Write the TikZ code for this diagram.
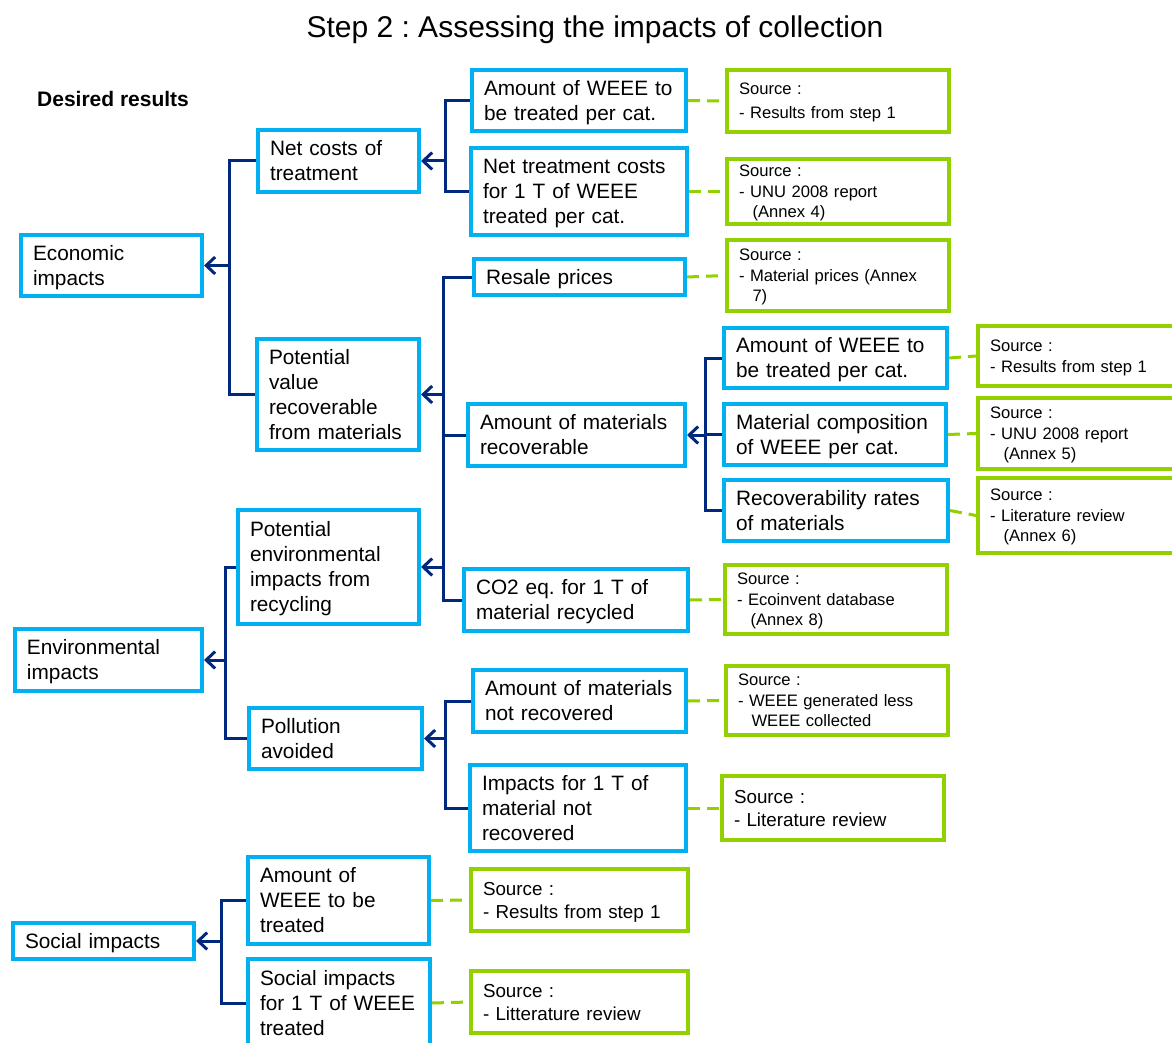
\documentclass[tikz,border=0pt]{standalone}
\usepackage{fontspec}
\setmainfont{Liberation Sans}
\usetikzlibrary{arrows.meta}
\definecolor{bxblue}{RGB}{0,176,240}
\definecolor{bxgreen}{RGB}{146,208,0}
\definecolor{lnnavy}{RGB}{0,40,125}
\frenchspacing
\newcommand{\mkbox}[7]{%
  \pgfmathsetmacro{\bxc}{(#3+#5)/2}%
  \pgfmathsetmacro{\byc}{(#4+#6)/2}%
  \pgfmathsetmacro{\bw}{#5-#3-4}%
  \pgfmathsetmacro{\bh}{#6-#4-4}%
  \pgfmathsetmacro{\btw}{#5-#3-28}%
  \node[#1, minimum width=\bw pt, minimum height=\bh pt, text width=\btw pt] (#2) at (\bxc,\byc)
    {\rule{0pt}{0.905em}#7\rule[-0.212em]{0pt}{0.212em}};%
}
\newcommand{\ind}{\hspace*{13.5pt}}
\begin{document}
\begin{tikzpicture}[x=1pt,y=-1pt,
  bluebox/.style={draw=bxblue, line width=4pt, inner xsep=12pt, inner ysep=0pt, align=left,
    font=\fontsize{20.8}{25}\selectfont},
  greenbox/.style={draw=bxgreen, line width=4pt, inner xsep=12pt, inner ysep=0pt, align=left,
    font=\fontsize{16.6}{20.5}\selectfont},
  greenboxL/.style={greenbox, font=\fontsize{18.8}{23}\selectfont},
  conn/.style={draw=lnnavy, line width=3pt},
  arr/.style={conn, -{Straight Barb[length=9pt,width=17pt]}},
  srcline/.style={draw=bxgreen, line width=3pt, dash pattern=on 12pt off 7pt},
  ttl/.style={font=\fontsize{30}{36}\selectfont, inner sep=0pt},
  hdr/.style={font=\fontsize{21}{25}\selectfont\bfseries, inner sep=0pt}
]
\useasboundingbox (0,0) rectangle (1172,1043);

\node[ttl, anchor=base] (title) at (595,38) {Step 2 : Assessing the impacts of collection};
\node[hdr, anchor=base west] (desired) at (37,107) {Desired results};

% level 1
\mkbox{bluebox}{econ}{19}{233}{204}{298}{Economic\\impacts}
\mkbox{bluebox}{env}{13}{627}{204}{693}{Environmental\\impacts}
\mkbox{bluebox}{social}{11}{921}{196}{961}{Social impacts}
% level 2
\mkbox{bluebox}{netcosts}{256}{128}{421}{194}{Net costs of\\treatment}
\mkbox{bluebox}{potvalue}{255}{337}{421}{452}{Potential\\value\\recoverable\\from materials}
\mkbox{bluebox}{potenv}{236}{508}{421}{626}{Potential\\environmental\\impacts from\\recycling}
\mkbox{bluebox}{pollution}{247}{706}{424}{771}{Pollution\\avoided}
\mkbox{bluebox}{amtsoc}{246}{855}{431}{946}{Amount of\\WEEE to be\\treated}
\mkbox{bluebox}{socimp}{246}{957}{432}{1049}{Social impacts\\for 1 T of WEEE\\treated}
% level 3
\mkbox{bluebox}{weeetop}{470}{68}{688}{133}{Amount of WEEE to\\be treated per cat.}
\mkbox{bluebox}{nettreat}{469}{146}{689}{237}{Net treatment costs\\for 1 T of WEEE\\treated per cat.}
\mkbox{bluebox}{resale}{472}{257}{687}{297}{Resale prices}
\mkbox{bluebox}{amtrec}{466}{402}{687}{468}{Amount of materials\\recoverable}
\mkbox{bluebox}{co2}{462}{567}{690}{633}{CO2 eq. for 1 T of\\material recycled}
\mkbox{bluebox}{notrec}{471}{668}{688}{734}{Amount of materials\\not recovered}
\mkbox{bluebox}{impnotrec}{468}{763}{688}{853}{Impacts for 1 T of\\material not\\recovered}
% level 4
\mkbox{bluebox}{weeemid}{722}{326}{949}{390}{Amount of WEEE to\\be treated per cat.}
\mkbox{bluebox}{matcomp}{722}{402}{948}{467}{Material composition\\of WEEE per cat.}
\mkbox{bluebox}{recrates}{722}{478}{950}{543}{Recoverability rates\\of materials}
% sources
\mkbox{greenbox}{s1}{725}{68}{951}{134}{Source :\\[3.5pt]- Results from step 1}
\mkbox{greenbox}{s2}{725}{157}{951}{226}{Source :\\- UNU 2008 report\\\ind(Annex 4)}
\mkbox{greenbox}{s3}{725}{238}{951}{313}{Source :\\- Material prices (Annex\\\ind 7)}
\mkbox{greenbox}{s4}{976}{324}{1190}{388}{Source :\\- Results from step 1}
\mkbox{greenbox}{s5}{976}{396}{1190}{471}{Source :\\- UNU 2008 report\\\ind(Annex 5)}
\mkbox{greenbox}{s6}{976}{476}{1190}{555}{Source :\\- Literature review\\\ind(Annex 6)}
\mkbox{greenbox}{s7}{723}{563}{949}{636}{Source :\\- Ecoinvent database\\\ind(Annex 8)}
\mkbox{greenbox}{s8}{724}{664}{950}{737}{Source :\\- WEEE generated less\\\ind WEEE collected}
\mkbox{greenboxL}{s9}{720}{774}{946}{842}{Source :\\- Literature review}
\mkbox{greenboxL}{s10}{469}{867}{690}{933}{Source :\\- Results from step 1}
\mkbox{greenboxL}{s11}{469}{969}{690}{1035}{Source :\\- Litterature review}

% trunk positions
\coordinate (tecon) at (229,0);
\coordinate (tnet) at (445,0);
\coordinate (tpv) at (443,0);
\coordinate (tamt) at (705,0);
\coordinate (tenv) at (225,0);
\coordinate (tpol) at (445,0);
\coordinate (tsoc) at (221,0);

% economic
\draw[conn] (netcosts.west) -- (netcosts.west -| tecon) -- (potvalue.west -| tecon) -- (potvalue.west);
\draw[arr] (econ.east -| tecon) -- (econ.east);
\draw[conn] (weeetop.west) -- (weeetop.west -| tnet) -- (nettreat.west -| tnet) -- (nettreat.west);
\draw[arr] (netcosts.east -| tnet) -- (netcosts.east);
\draw[conn] (resale.west) -- (resale.west -| tpv) -- (co2.west -| tpv) -- (co2.west);
\draw[conn] (amtrec.west) -- (amtrec.west -| tpv);
\draw[arr] (potvalue.east -| tpv) -- (potvalue.east);
\draw[arr] (potenv.east -| tpv) -- (potenv.east);
\draw[conn] (weeemid.west) -- (weeemid.west -| tamt) -- (recrates.west -| tamt) -- (recrates.west);
\draw[conn] (matcomp.west) -- (matcomp.west -| tamt);
\draw[arr] (amtrec.east -| tamt) -- (amtrec.east);
% environmental
\draw[conn] (potenv.west) -- (potenv.west -| tenv) -- (pollution.west -| tenv) -- (pollution.west);
\draw[arr] (env.east -| tenv) -- (env.east);
\draw[conn] (notrec.west) -- (notrec.west -| tpol) -- (impnotrec.west -| tpol) -- (impnotrec.west);
\draw[arr] (pollution.east -| tpol) -- (pollution.east);
% social
\draw[conn] (amtsoc.west) -- (amtsoc.west -| tsoc) -- (socimp.west -| tsoc) -- (socimp.west);
\draw[arr] (social.east -| tsoc) -- (social.east);

% source links
\draw[srcline] (weeetop.east) -- (s1.west);
\draw[srcline] (nettreat.east) -- (s2.west);
\draw[srcline] (resale.east) -- (s3.west);
\draw[srcline] (weeemid.east) -- (s4.west);
\draw[srcline] (matcomp.east) -- (s5.west);
\draw[srcline] (recrates.east) -- (s6.west);
\draw[srcline] (co2.east) -- (s7.west);
\draw[srcline] (notrec.east) -- (s8.west);
\draw[srcline] (impnotrec.east) -- (s9.west);
\draw[srcline] (amtsoc.east) -- (s10.west);
\draw[srcline] (socimp.east) -- (s11.west);
\end{tikzpicture}
\end{document}
